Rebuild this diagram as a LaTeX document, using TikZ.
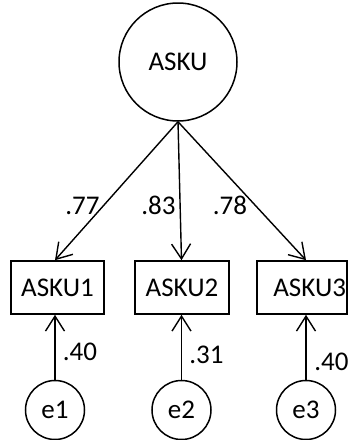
\documentclass[tikz,border=0pt]{standalone}
\usepackage{fontspec}
\setmainfont{Carlito}
\usetikzlibrary{arrows.meta}
\tikzset{
  latent/.style={circle, draw, line width=1.5pt, inner sep=0pt},
  obsbox/.style={rectangle, draw, line width=1.6pt, minimum height=53pt, inner sep=0pt},
  path/.style={line width=1.4pt, -{Straight Barb[length=15pt,width=19pt,line width=1.4pt]}},
  coef/.style={inner sep=0pt},
}
\begin{document}
\begin{tikzpicture}[x=1pt,y=-1pt,font=\fontsize{27}{32}\selectfont]
\useasboundingbox (0,0) rectangle (348,440);
\node[latent, minimum size=118pt] (A) at (178,62) {ASKU};
\node[obsbox, minimum width=93pt] (b1) at (57.5,287.5) {ASKU1};
\node[obsbox, minimum width=94pt] (b2) at (182,287.5) {ASKU2};
\node[obsbox, minimum width=90pt, text width=88pt, align=right, inner xsep=1pt] (b3) at (302,287.5) {ASKU3};
\node[latent, minimum size=59pt] (e1) at (55,410) {e1};
\node[latent, minimum size=59pt] (e2) at (181.5,410) {e2};
\node[latent, minimum size=59pt] (e3) at (306,410) {e3};
\draw[path] (A.south) -- (b1.north -| e1);
\draw[path] (A.south) -- (b2.north -| e2);
\draw[path] (A.south) -- (b3.north -| e3);
\draw[path] (e1.north) -- (b1.south -| e1);
\draw[path] (e2.north) -- (b2.south -| e2);
\draw[path] (e3.north) -- (b3.south -| e3);
\node[coef] (l1) at (82.5,205.5) {.77};
\node[coef] (l2) at (158.5,205.5) {.83};
\node[coef] (l3) at (230,205.5) {.78};
\node[coef] (l4) at (80,351.5) {.40};
\node[coef] (l5) at (206.5,355) {.31};
\node[coef] (l6) at (331.5,361.5) {.40};
\end{tikzpicture}
\end{document}
